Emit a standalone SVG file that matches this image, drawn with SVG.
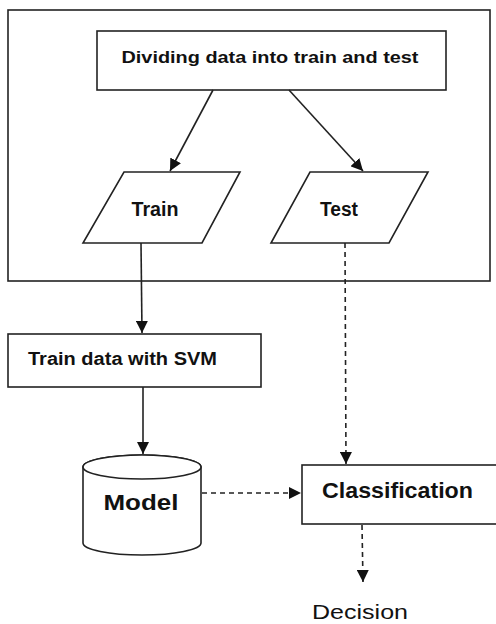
<svg xmlns="http://www.w3.org/2000/svg" width="496" height="624" viewBox="0 0 496 624">
<style>
.box{fill:#fff;stroke:#222;stroke-width:1.6}
.frame{fill:none;stroke:#222;stroke-width:1.6}
.t{font-family:"Liberation Sans",Arial,sans-serif;font-weight:bold;fill:#111;text-anchor:middle}
.r{font-family:"Liberation Sans",Arial,sans-serif;fill:#111;text-anchor:middle}
.c{fill:none;stroke:#222;stroke-width:1.6}
.d{stroke-dasharray:5 4}
</style>
<defs>
<marker id="ah" viewBox="0 0 12 12" refX="12" refY="6" markerWidth="12" markerHeight="12" markerUnits="userSpaceOnUse" orient="auto">
<path d="M0,0 L12,6 L0,12 Z" fill="#111"/>
</marker>
</defs>
<rect class="frame" x="8" y="10" width="482" height="271"/>
<g id="divide">
<rect class="box" x="97" y="31" width="349" height="59"/>
<text class="t" x="270" y="63" font-size="17" textLength="297" lengthAdjust="spacingAndGlyphs">Dividing data into train and test</text>
</g>
<g id="train">
<polygon class="box" points="124,172 240,172 202,243 83,243"/>
<text class="t" x="155" y="216" font-size="20" textLength="47" lengthAdjust="spacingAndGlyphs">Train</text>
</g>
<g id="test">
<polygon class="box" points="310,172 428,172 389,243 271,243"/>
<text class="t" x="339" y="216" font-size="20" textLength="38" lengthAdjust="spacingAndGlyphs">Test</text>
</g>
<g id="trainsvm">
<rect class="box" x="8" y="334" width="253" height="53"/>
<text class="t" x="122.5" y="365" font-size="18" textLength="189" lengthAdjust="spacingAndGlyphs">Train data with SVM</text>
</g>
<g id="model">
<path class="box" d="M83,467 L83,543 A59,12 0 0 0 201,543 L201,467 A59,12 0 0 0 83,467 Z"/>
<ellipse class="box" cx="142" cy="467" rx="59" ry="12" fill="none"/>
<text class="t" x="141" y="510" font-size="22" textLength="75" lengthAdjust="spacingAndGlyphs">Model</text>
</g>
<g id="classification">
<rect class="box" x="302" y="465" width="196" height="59"/>
<text class="t" x="397.5" y="498" font-size="22" textLength="151" lengthAdjust="spacingAndGlyphs">Classification</text>
</g>
<g id="decision">
<text class="r" x="360" y="619" font-size="21" textLength="96" lengthAdjust="spacingAndGlyphs">Decision</text>
</g>
<g id="connectors">
<line class="c" x1="213" y1="90" x2="170" y2="171" marker-end="url(#ah)"/>
<line class="c" x1="289" y1="90" x2="363" y2="171" marker-end="url(#ah)"/>
<line class="c" x1="141" y1="243" x2="142" y2="333" marker-end="url(#ah)"/>
<line class="c" x1="143" y1="387" x2="143" y2="454" marker-end="url(#ah)"/>
<line class="c d" x1="345" y1="243" x2="346" y2="464" marker-end="url(#ah)"/>
<line class="c d" x1="202" y1="493" x2="301" y2="493" marker-end="url(#ah)"/>
<line class="c d" x1="362" y1="525" x2="363" y2="582" marker-end="url(#ah)"/>
</g>
</svg>
